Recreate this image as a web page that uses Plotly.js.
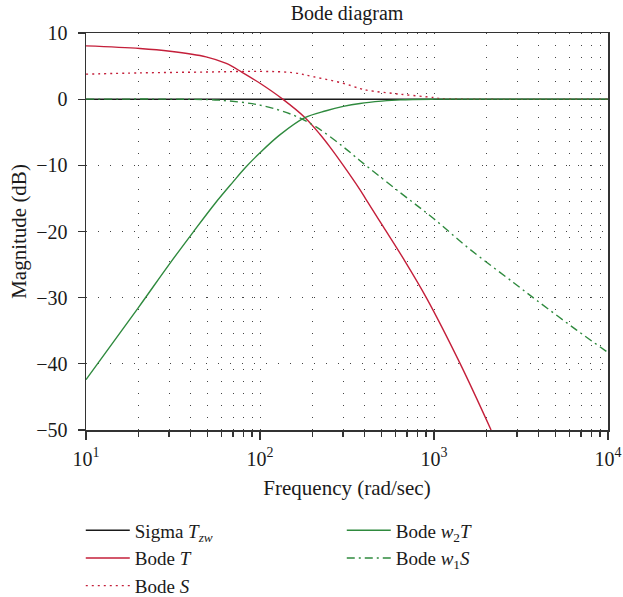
<!DOCTYPE html>
<html>
<head>
<meta charset="utf-8">
<script src="https://cdn.plot.ly/plotly-3.0.1.min.js"></script>
<style>html,body{margin:0;padding:0;background:#fff;}#chart{width:623px;height:597px;}</style>
</head>
<body>
<div id="chart"></div>
<script>
// ---- data ----
const seriesNames = ['Sigma <i>T</i><sub><i>zw</i></sub>', 'Bode <i>T</i>', 'Bode <i>S</i>', 'Bode <i>w</i><sub>2</sub><i>T</i>', 'Bode <i>w</i><sub>1</sub><i>S</i>'];

const sigmaFreq = [10, 10000];
const sigmaMag  = [0, 0];

const tFreq = [10, 20.4, 30.4, 49, 64, 78.5, 100, 135, 181, 221, 252, 301, 376, 410, 512, 667, 908, 1409, 2128];
const tMag  = [8.05, 7.66, 7.25, 6.4, 5.4, 4.1, 2.4, 0, -2.77, -5.3, -7.2, -10, -13.7, -15.3, -19.3, -24.1, -30.1, -39.9, -50];

const sFreq = [10, 20.4, 49, 100, 155, 202, 301, 376, 410, 638, 990, 1100, 10000];
const sMag  = [3.78, 3.97, 4.1, 4.2, 4.0, 3.4, 2.4, 1.6, 1.36, 0.75, 0.25, 0.1, 0];

const w2tFreq = [10, 20, 30, 41, 55, 70, 82, 100, 130, 181, 240, 301, 376, 500, 638, 1000, 10000];
const w2tMag  = [-42.4, -31.5, -25.0, -20.2, -15.8, -12.5, -10.4, -8.1, -5.4, -2.8, -1.75, -1.1, -0.65, -0.3, -0.1, 0, 0];

const w1sFreq = [10, 40, 58, 100, 155, 210, 301, 376, 638, 990, 1610, 2858, 3890, 6607, 10000];
const w1sMag  = [0, -0.02, -0.15, -0.9, -2.4, -4.2, -7.2, -9.3, -14.1, -18.0, -22.7, -27.7, -30.4, -34.9, -38.3];

const xTickVals = [10, 100, 1000, 10000];
const xTickText = ['10<sup>1</sup>', '10<sup>2</sup>', '10<sup>3</sup>', '10<sup>4</sup>'];
const yTickVals = [-50, -40, -30, -20, -10, 0, 10];

// ---- styling ----
const RED = '#c41f3a';
const GREEN = '#2f8a3e';
const FONT = 'Liberation Serif, Times New Roman, serif';
const gridDash = '1px,11px';

const traces = [
  {x: sigmaFreq, y: sigmaMag, name: seriesNames[0], mode: 'lines', line: {color: '#1a1a1a', width: 1.5}, legend: 'legend'},
  {x: tFreq, y: tMag, name: seriesNames[1], mode: 'lines', line: {color: RED, width: 1.4, shape: 'spline', smoothing: 1}, legend: 'legend'},
  {x: sFreq, y: sMag, name: seriesNames[2], mode: 'lines', line: {color: RED, width: 1.4, dash: '2px,4px', shape: 'spline', smoothing: 1}, legend: 'legend'},
  {x: w2tFreq, y: w2tMag, name: seriesNames[3], mode: 'lines', line: {color: GREEN, width: 1.4, shape: 'spline', smoothing: 1}, legend: 'legend2'},
  {x: w1sFreq, y: w1sMag, name: seriesNames[4], mode: 'lines', line: {color: GREEN, width: 1.4, dash: '8px,4px,2px,4px', shape: 'spline', smoothing: 1}, legend: 'legend2'}
];

const legendCommon = {
  orientation: 'v', xanchor: 'left', yanchor: 'top',
  bgcolor: 'rgba(0,0,0,0)', borderwidth: 0,
  font: {family: FONT, size: 19, color: '#1a1a1a'},
  tracegroupgap: 0, itemwidth: 44
};

const layout = {
  width: 623, height: 597,
  margin: {l: 86, r: 15, t: 33, b: 167, autoexpand: false},
  paper_bgcolor: '#fff', plot_bgcolor: '#fff',
  font: {family: FONT, size: 20, color: '#1a1a1a'},
  title: {text: 'Bode diagram', font: {family: FONT, size: 20, color: '#1a1a1a'},
          x: 0.5, xref: 'paper', xanchor: 'center', y: 1 - 13/597, yref: 'container', yanchor: 'middle'},
  xaxis: {
    type: 'log', range: [1, 4],
    tickvals: xTickVals, ticktext: xTickText,
    ticks: 'outside', ticklen: 8, tickcolor: '#333', tickwidth: 1.2,
    showline: true, linecolor: '#333', linewidth: 1.5, mirror: true,
    showgrid: true, gridcolor: '#444', gridwidth: 1, griddash: gridDash,
    minor: {dtick: 'D1', ticks: 'outside', ticklen: 5, tickcolor: '#333', tickwidth: 1.2,
            showgrid: true, gridcolor: '#444', gridwidth: 1, griddash: gridDash},
    zeroline: false,
    tickfont: {family: FONT, size: 20},
    ticklabelstandoff: 2,
    title: {text: 'Frequency (rad/sec)', font: {family: FONT, size: 21}, standoff: 12}
  },
  yaxis: {
    range: [-50, 10], tickvals: yTickVals,
    ticks: 'outside', ticklen: 7, tickcolor: '#333', tickwidth: 1.2,
    showline: true, linecolor: '#333', linewidth: 1.5, mirror: true,
    showgrid: true, gridcolor: '#444', gridwidth: 1, griddash: gridDash,
    zeroline: false,
    tickfont: {family: FONT, size: 20},
    ticklabelstandoff: 6,
    title: {text: 'Magnitude (dB)', font: {family: FONT, size: 21}, standoff: 4}
  },
  legend: Object.assign({}, legendCommon, {x: -0.01, y: -0.205}),
  legend2: Object.assign({}, legendCommon, {x: 0.49, y: -0.205}),
  showlegend: true
};

Plotly.newPlot('chart', traces, layout, {displayModeBar: false, staticPlot: true});
</script>
</body>
</html>
